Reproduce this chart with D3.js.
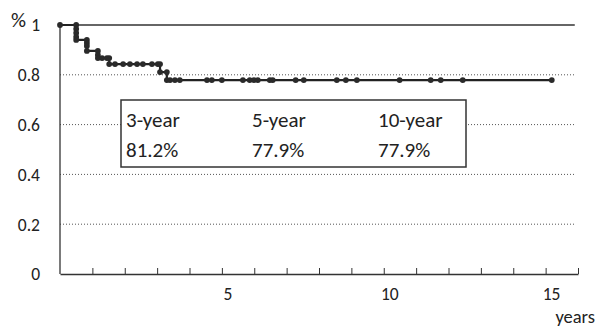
<!DOCTYPE html>
<html>
<head>
<meta charset="utf-8">
<script src="https://cdn.jsdelivr.net/npm/d3@7"></script>
<style>
body { margin: 0; background: #fff; }
text { font-family: Carlito, Lato, "Open Sans", sans-serif; fill: #222; }
</style>
</head>
<body>
<svg id="chart"></svg>
<script>
// Kaplan-Meier curve points (years, survival); every point gets a dot
var kmTimes = [0, 0.5, 0.5, 0.5, 0.5, 0.5, 0.83, 0.83, 0.83, 0.83, 1.17, 1.17, 1.17, 1.3, 1.45, 1.52, 1.52,
	1.70, 1.95, 2.16, 2.38, 2.56, 2.84, 3.02, 3.09, 3.09, 3.3, 3.3, 3.4, 3.55, 3.7,
	4.54, 4.69, 5.0, 5.65, 5.86, 5.99, 6.11, 6.48, 6.57, 7.28, 7.53, 8.55, 8.83, 9.17,
	10.49, 11.45, 11.76, 12.44, 15.19];
var kmSurv = [1, 1, 0.984, 0.968, 0.952, 0.94, 0.94, 0.928, 0.916, 0.896, 0.896, 0.88, 0.867, 0.867, 0.867, 0.867, 0.843,
	0.843, 0.843, 0.843, 0.843, 0.843, 0.843, 0.843, 0.843, 0.811, 0.811, 0.779, 0.779, 0.779, 0.779,
	0.779, 0.779, 0.779, 0.779, 0.779, 0.779, 0.779, 0.779, 0.779, 0.779, 0.779, 0.779, 0.779, 0.779,
	0.779, 0.779, 0.779, 0.779, 0.779];

var yTicks = [0, 0.2, 0.4, 0.6, 0.8, 1];
var yTickLabels = ['0', '0.2', '0.4', '0.6', '0.8', '1'];
var xTicks = d3.range(1, 17);
var xLabelTicks = [5, 10, 15];

var legendHeads = ['3-year', '5-year', '10-year'];
var legendValues = ['81.2%', '77.9%', '77.9%'];

var dims = {
	width: 596,
	height: 327,
	left: 60,
	right: 578,
	top: 25,
	bottom: 274
};

var svg = d3.select('#chart').attr('width', dims.width).attr('height', dims.height);

var x = d3.scaleLinear().domain([0, 16]).range([dims.left, dims.right]);
var y = d3.scaleLinear().domain([0, 1]).range([dims.bottom, dims.top]);

// gridlines (dotted), top one solid
svg.append('g')
	.selectAll('line')
	.data(yTicks.filter(d => d > 0))
	.enter()
	.append('line')
		.attr('x1', x(0))
		.attr('x2', x(15.9))
		.attr('y1', d => y(d))
		.attr('y2', d => y(d))
		.attr('stroke', d => d == 1 ? '#333' : '#555')
		.attr('stroke-width', d => d == 1 ? 1.3 : 1)
		.attr('stroke-dasharray', d => d == 1 ? null : '1 2');

// y axis labels
svg.append('g')
	.selectAll('text')
	.data(yTicks)
	.enter()
	.append('text')
		.attr('x', 40)
		.attr('y', d => y(d))
		.attr('dy', '0.36em')
		.attr('text-anchor', 'end')
		.attr('font-size', 17.5)
		.text((d, i) => yTickLabels[i]);

svg.append('text')
	.attr('x', 11)
	.attr('y', 27)
	.attr('font-size', 21)
	.text('%');

// x axis with inner ticks
var xAxis = d3.axisBottom(x)
	.tickValues(xTicks)
	.tickSize(-6)
	.tickSizeOuter(0)
	.tickFormat('');
var gx = svg.append('g')
	.attr('transform', 'translate(0 ' + dims.bottom + ')')
	.call(xAxis);
gx.select('.domain').attr('stroke', '#333').attr('stroke-width', 1.3);
gx.selectAll('.tick line').attr('stroke', '#333');

svg.append('g')
	.selectAll('text')
	.data(xLabelTicks)
	.enter()
	.append('text')
		.attr('x', d => x(d) + 6)
		.attr('y', 300)
		.attr('text-anchor', 'middle')
		.attr('font-size', 17.5)
		.text(d => d);

svg.append('text')
	.attr('x', 595)
	.attr('y', 323)
	.attr('text-anchor', 'end')
	.attr('font-size', 18.5)
	.text('years');

// y axis
svg.append('line')
	.attr('x1', x(0)).attr('x2', x(0))
	.attr('y1', y(1)).attr('y2', y(0))
	.attr('stroke', '#333')
	.attr('stroke-width', 1.3);

// legend box
var box = { left: 121, top: 100, width: 345, height: 67 };
svg.append('rect')
	.attr('x', box.left)
	.attr('y', box.top)
	.attr('width', box.width)
	.attr('height', box.height)
	.attr('fill', '#fff')
	.attr('stroke', '#333')
	.attr('stroke-width', 1.5);

var colX = d3.scalePoint().domain(legendHeads).range([126, 378]);
svg.append('g')
	.selectAll('text')
	.data(legendHeads)
	.enter()
	.append('text')
		.attr('x', d => colX(d))
		.attr('y', 127)
		.attr('font-size', 21)
		.text(d => d);
svg.append('g')
	.selectAll('text')
	.data(legendValues)
	.enter()
	.append('text')
		.attr('x', (d, i) => colX(legendHeads[i]))
		.attr('y', 157)
		.attr('font-size', 21)
		.text(d => d);

// survival curve
var pts = kmTimes.map((t, i) => [t, kmSurv[i]]);
var line = d3.line()
	.x(d => x(d[0]))
	.y(d => y(d[1]))
	.curve(d3.curveStepAfter);

svg.append('path')
	.datum(pts)
	.attr('d', line)
	.attr('fill', 'none')
	.attr('stroke', '#222')
	.attr('stroke-width', 2.2);

svg.append('g')
	.selectAll('circle')
	.data(pts)
	.enter()
	.append('circle')
		.attr('cx', d => x(d[0]))
		.attr('cy', d => y(d[1]))
		.attr('r', 2.9)
		.attr('fill', '#2a2a2a');
</script>
</body>
</html>
